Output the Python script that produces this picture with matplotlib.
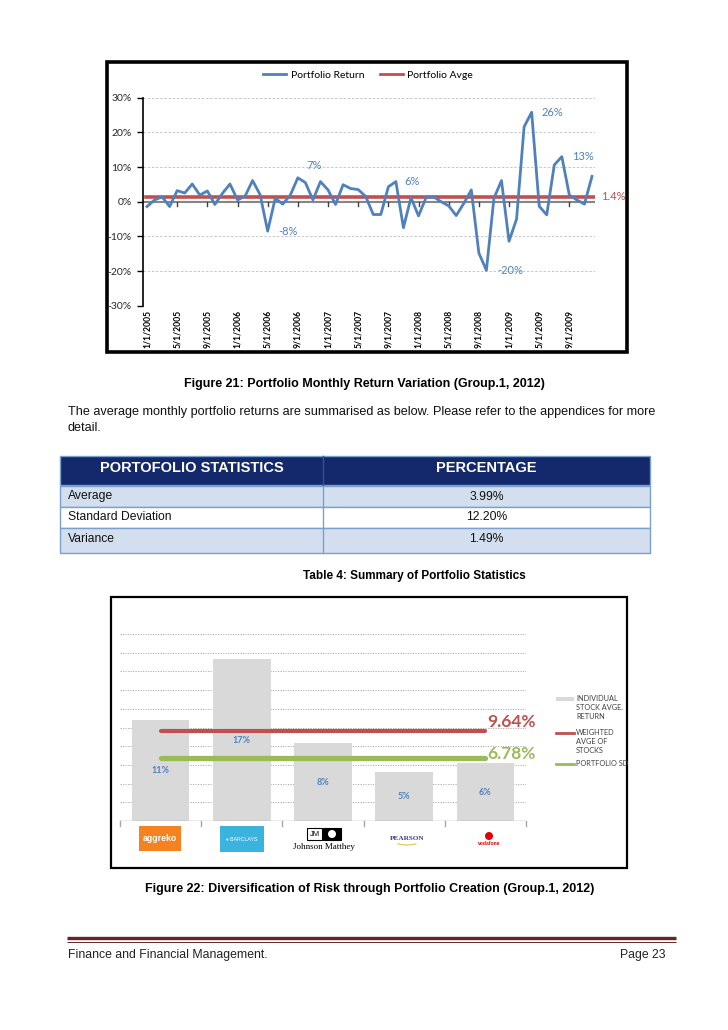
import numpy as np
import pandas as pd
import matplotlib
matplotlib.use("Agg")
import matplotlib.pyplot as plt
from matplotlib.patches import Rectangle, Circle, Arc
from matplotlib.lines import Line2D

# ---------------- data ----------------
returns = [-1.4, 0.5, 1.4, -1.4, 3.2, 2.5, 5.1, 1.9, 3.1, -0.8, 2.4, 5.1,
           0.5, 1.6, 6.1, 2.0, -8.5, 1.0, -0.7, 1.9, 6.9, 5.5, 0.5, 5.8,
           3.4, -0.8, 4.9, 3.8, 3.5, 1.5, -3.7, -3.7, 4.3, 5.8, -7.5, 1.2,
           -4.1, 1.2, 1.4, 0.0, -1.2, -4.0, -0.5, 3.4, -14.8, -19.8, 1.0, 6.1,
           -11.4, -5.0, 21.6, 25.8, -1.3, -3.8, 10.6, 13.0, 1.9, 0.5, -0.7, 7.3]
portfolio_avge = 1.4
start_month = "2005-01-01"
label_points = [16, 20, 33, 45, 51, 55]

stat_names = ["Average", "Standard Deviation", "Variance"]
stat_values = ["3.99%", "12.20%", "1.49%"]
table_headers = ["PORTOFOLIO STATISTICS", "PERCENTAGE"]

stocks = ["aggreko", "BARCLAYS", "Johnson Matthey", "PEARSON", "vodafone"]
stock_returns = [10.8, 17.3, 8.3, 5.2, 6.2]
weighted_avge = 9.64
portfolio_sd = 6.78

# ---------------- figure ----------------
W, H = 728, 1030
fig = plt.figure(figsize=(W / 100, H / 100), dpi=100)
page = fig.add_axes([0, 0, 1, 1])
page.set_xlim(0, W)
page.set_ylim(H, 0)
page.axis("off")

CAL = ["Lato", "DejaVu Sans"]
ARI = ["Liberation Sans", "DejaVu Sans"]
BLUE = "#4F81BD"
RED = "#C0504D"
GREEN = "#9BBB59"


def ax_px(x0, y0, x1, y1):
    return fig.add_axes([x0 / W, 1 - y1 / H, (x1 - x0) / W, (y1 - y0) / H])


# ================= Figure 21: line chart =================
page.add_patch(Rectangle((107, 62), 520, 290, fill=False, lw=2.6, ec="black"))
ax1 = ax_px(143, 97.7, 595, 305.7)
ax1.set_facecolor("none")
n = len(returns)
x = np.arange(n)
months = pd.date_range(start_month, periods=n, freq="MS")
ax1.set_xlim(-0.53, 59.4)
ax1.set_ylim(-30, 30)
yt = np.arange(-30, 31, 10)
ax1.set_yticks(yt)
ax1.set_yticklabels([f"{v}%" for v in yt], fontsize=7.5, family=CAL, color="#262626")
for v in yt:
    if v != 0:
        ax1.axhline(v, color="#BFBFBF", lw=0.6, ls=(0, (3, 2)), zorder=1)
ax1.axhline(0, color="#868686", lw=1.5, zorder=2)
ticks = list(range(0, n, 4))
ax1.set_xticks(ticks)
ax1.set_xticklabels([f"{d.month}/{d.day}/{d.year}" for d in months[ticks]],
                    rotation=90, fontsize=6.2, family=CAL, fontweight="bold")
ax1.tick_params(axis="x", length=0, pad=3)
ax1.tick_params(axis="y", length=4, width=1, pad=4)
for t in ticks[1:]:
    ax1.plot([t, t], [0, -1.2], color="#404040", lw=1, clip_on=False, zorder=2)
for s in ["top", "right", "bottom"]:
    ax1.spines[s].set_visible(False)
ax1.spines["left"].set_linewidth(1.2)

ax1.plot([-0.1, 59.4], [portfolio_avge, portfolio_avge], color=RED, lw=2.6,
         zorder=3, label="Portfolio Avge")
ax1.plot(x, returns, color=BLUE, lw=2.0, zorder=4, label="Portfolio Return")

offsets = {16: (20, 0), 20: (16, 12), 33: (16, 0), 45: (24, 0), 51: (21, 0), 55: (21, 0)}
for i in label_points:
    ax1.annotate(f"{round(returns[i])}%", (x[i], returns[i]), xytext=offsets[i],
                 textcoords="offset pixels", ha="center", va="center",
                 fontsize=8, color=BLUE, family=CAL)
ax1.annotate(f"{portfolio_avge}%", (59.4, portfolio_avge), xytext=(18, 0),
             textcoords="offset pixels", ha="center", va="center",
             fontsize=8, color=RED, family=CAL, annotation_clip=False)

h_ret = Line2D([], [], color=BLUE, lw=2)
h_avg = Line2D([], [], color=RED, lw=2)
fig.legend([h_ret, h_avg], ["Portfolio Return", "Portfolio Avge"], ncol=2,
           loc="center", bbox_to_anchor=(368 / W, 1 - 75 / H), frameon=False,
           prop={"family": CAL, "size": 7.5}, handlelength=2.2, columnspacing=1.5,
           handletextpad=0.4)

# ================= captions / paragraph =================
page.text(364, 384, "Figure 21: Portfolio Monthly Return Variation (Group.1, 2012)",
          ha="center", va="center", fontsize=9, fontweight="bold", family=ARI)
page.text(68, 412, "The average monthly portfolio returns are summarised as below. "
          "Please refer to the appendices for more",
          ha="left", va="center", fontsize=9.1, family=ARI, color="#111111")
page.text(68, 428, "detail.", ha="left", va="center", fontsize=9.1, family=ARI, color="#111111")

# ================= Table 4 =================
NAVY = "#14296B"
LIGHT = "#D3DFEE"
BORD = "#7BA0CD"
tx0, tx1, tcol = 60, 650, 323
page.add_patch(Rectangle((tx0, 456), tx1 - tx0, 29, fc=NAVY, ec=BORD, lw=1))
page.plot([tcol, tcol], [456, 485], color="#3A4F8A", lw=1)
page.text((tx0 + tcol) / 2, 467.5, table_headers[0], color="white", fontsize=10.5,
          fontweight="bold", family=ARI, ha="center", va="center")
page.text((tcol + tx1) / 2, 467.5, table_headers[1], color="white", fontsize=10.5,
          fontweight="bold", family=ARI, ha="center", va="center")
row_tops = [486, 507, 528]
row_h = 21
for k, (nm, val) in enumerate(zip(stat_names, stat_values)):
    top = row_tops[k]
    fc = LIGHT if k % 2 == 0 else "white"
    hh = row_h if k < 2 else 25
    page.add_patch(Rectangle((tx0, top), tx1 - tx0, hh, fc=fc, ec=BORD, lw=1))
    page.plot([tcol, tcol], [top, top + hh], color=BORD, lw=1)
    page.text(68, top + 10.5, nm, fontsize=8.7, family=ARI, ha="left", va="center", color="#111111")
    page.text((tcol + tx1) / 2, top + 10.5, val, fontsize=8.7, family=ARI, ha="center",
              va="center", color="#111111")
page.text(414, 576, "Table 4: Summary of Portfolio Statistics", ha="center", va="center",
          fontsize=8.5, fontweight="bold", family=ARI)

# ================= Figure 22: bar chart =================
page.add_patch(Rectangle((111, 597), 516, 271, fill=False, lw=1.6, ec="black"))
ax2 = ax_px(120, 634, 526, 821)
ax2.set_facecolor("none")
ax2.set_xlim(-0.5, 4.5)
ax2.set_ylim(0, 20)
for v in range(2, 21, 2):
    ax2.axhline(v, color="#A6A6A6", lw=0.6, ls=(0, (1.5, 1.5)), zorder=0)
xb = np.arange(len(stocks))
ax2.bar(xb, stock_returns, width=0.71, color="#D9D9D9", zorder=2)
for xi, v in zip(xb, stock_returns):
    ax2.text(xi, v / 2, f"{v:.0f}%", ha="center", va="center", fontsize=6.5,
             color=BLUE, family=CAL, fontweight="bold", zorder=5)
ax2.axhline(0, color="#A6A6A6", lw=1, zorder=3)
for b in np.arange(-0.5, 4.6, 1):
    ax2.plot([b, b], [0, -0.55], color="#A6A6A6", lw=1, clip_on=False)
ax2.plot([0, 4], [weighted_avge] * 2, color=RED, lw=3.0, solid_capstyle="round", zorder=4)
ax2.plot([0, 4], [portfolio_sd] * 2, color=GREEN, lw=3.8, solid_capstyle="round", zorder=4)
ax2.text(4.02, weighted_avge + 1.0, f"{weighted_avge}%", color=RED, fontsize=12.5,
         fontweight="bold", family=CAL, ha="left", va="center", clip_on=False)
ax2.text(4.02, portfolio_sd + 0.4, f"{portfolio_sd}%", color=GREEN, fontsize=12.5,
         fontweight="bold", family=CAL, ha="left", va="center", clip_on=False)
ax2.set_xticks([])
ax2.set_yticks([])
for s in ax2.spines.values():
    s.set_visible(False)

# legend of bar chart
leg_fs = 5.3
page.add_patch(Rectangle((556, 697), 18, 4, fc="#D9D9D9", ec="none"))
page.text(576, 695, "INDIVIDUAL\nSTOCK AVGE.\nRETURN", fontsize=leg_fs, family=CAL,
          va="top", ha="left", color="#404040", linespacing=1.35)
page.plot([556, 574], [733, 733], color=RED, lw=2)
page.text(576, 729, "WEIGHTED\nAVGE OF\nSTOCKS", fontsize=leg_fs, family=CAL,
          va="top", ha="left", color="#404040", linespacing=1.35)
page.plot([556, 574], [764, 764], color=GREEN, lw=2)
page.text(576, 764, "PORTFOLIO SD", fontsize=leg_fs, family=CAL,
          va="center", ha="left", color="#404040")

# logos (category labels)
page.add_patch(Rectangle((139, 826), 42, 25, fc="#F58220", ec="none"))
page.text(160, 838.5, stocks[0], color="white", fontsize=6.3, fontweight="bold",
          family=ARI, ha="center", va="center")
page.add_patch(Rectangle((220, 826), 44, 26, fc="#3AB3DF", ec="none"))
page.text(242, 839, "\u2666 " + stocks[1], color="white", fontsize=3.8, family=ARI,
          ha="center", va="center")
page.add_patch(Rectangle((307, 828), 15, 12, fc="white", ec="black", lw=0.8))
page.text(314.5, 834.3, "JM", fontsize=5.5, family=ARI, ha="center", va="center")
page.add_patch(Rectangle((323, 828), 18, 12, fc="black", ec="black", lw=0.8))
page.add_patch(Circle((332, 834), 4, fc="white", ec="none"))
page.text(324, 847, stocks[2], fontsize=6.5, family=["Liberation Serif"], ha="center",
          va="center")
page.text(407, 838, stocks[3], fontsize=5.2, family=["Liberation Serif"], ha="center",
          va="center", color="#3B3B8F", fontweight="bold")
page.add_patch(Arc((407, 837), 34, 16, theta1=35, theta2=145, color="#D8C65A", lw=0.8))
page.add_patch(Circle((489, 836), 4, fc="#E60000", ec="none"))
page.text(489, 843.5, stocks[4], fontsize=3.6, family=ARI, ha="center", va="center",
          color="#E60000", fontweight="bold")

page.text(370, 889, "Figure 22: Diversification of Risk through Portfolio Creation (Group.1, 2012)",
          ha="center", va="center", fontsize=9, fontweight="bold", family=ARI)

# ================= footer =================
page.plot([67, 676], [938, 938], color="#632423", lw=2.4, solid_capstyle="butt")
page.plot([67, 676], [941.5, 941.5], color="#632423", lw=0.7, solid_capstyle="butt")
page.text(68, 955, "Finance and Financial Management.", fontsize=8.8, family=ARI,
          ha="left", va="center", color="#222222")
page.text(666, 955, "Page 23", fontsize=8.8, family=ARI, ha="right", va="center",
          color="#222222")

fig.savefig("out.png", dpi=100)
